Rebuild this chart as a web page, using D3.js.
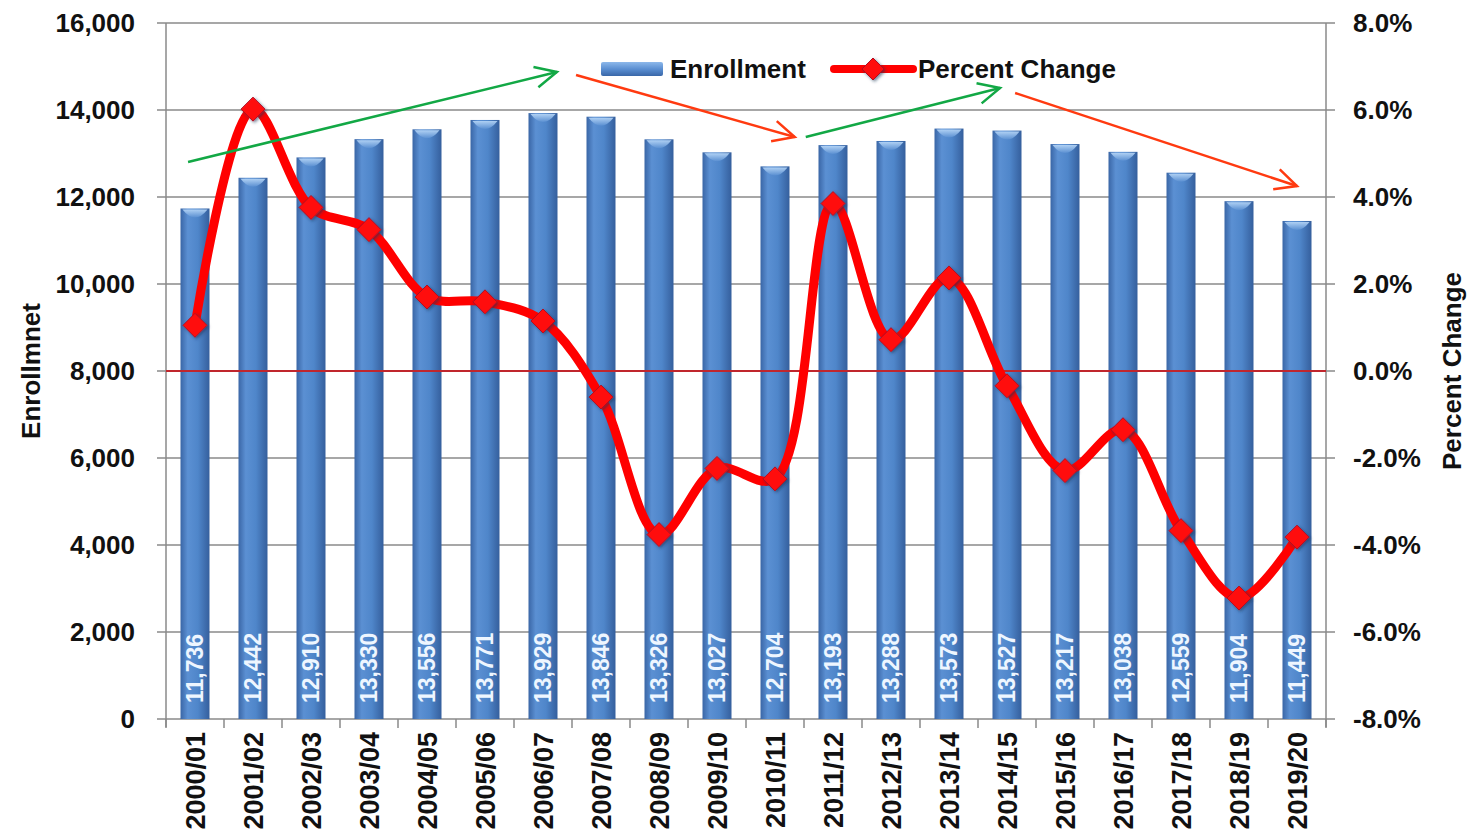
<!DOCTYPE html>
<html><head><meta charset="utf-8">
<script src="https://cdn.jsdelivr.net/npm/d3@7"></script>
<style>
body{margin:0;background:#fff;overflow:hidden}
text{font-family:"Liberation Sans",Arial,Helvetica,sans-serif}
</style>
</head><body>
<svg id="chart" width="1470" height="838"></svg>
<script>
// ---------- data ----------
const categories = ["2000/01","2001/02","2002/03","2003/04","2004/05","2005/06","2006/07","2007/08","2008/09","2009/10","2010/11","2011/12","2012/13","2013/14","2014/15","2015/16","2016/17","2017/18","2018/19","2019/20"];
const enrollment = [11736,12442,12910,13330,13556,13771,13929,13846,13326,13027,12704,13193,13288,13573,13527,13217,13038,12559,11904,11449];
const percentChange = [1.05,6.02,3.76,3.25,1.70,1.59,1.15,-0.60,-3.76,-2.24,-2.48,3.85,0.72,2.14,-0.34,-2.29,-1.35,-3.67,-5.22,-3.82];
const leftTicks = [0,2000,4000,6000,8000,10000,12000,14000,16000];
const rightTicks = [-8,-6,-4,-2,0,2,4,6,8];
// trend arrows: [category index position, enrollment value]
const arrowStart = [[-0.12,12805],[6.57,14805],[10.53,13379],[14.14,14391]];
const arrowEnd   = [[6.24,14874],[10.34,13379],[13.88,14506],[19.0,12253]];
const arrowTrend = ["up","down","up","down"];

// ---------- layout ----------
const svg = d3.select("#chart");
const L = 166, R = 1326, T = 23, B = 719;

const x = d3.scaleBand().domain(categories).range([L, R]).paddingInner(0.5).paddingOuter(0.25);
const step = x.step();
const xc = i => x(categories[0]) + x.bandwidth()/2 + i*step;
const yL = d3.scaleLinear().domain([0,16000]).range([B, T]);
const yR = d3.scaleLinear().domain([-8,8]).range([B, T]);

const defs = svg.append("defs");
const bg = defs.append("linearGradient").attr("id","barGrad").attr("x1","0").attr("x2","1").attr("y1","0").attr("y2","0");
bg.append("stop").attr("offset","0").attr("stop-color","#3a66a6");
bg.append("stop").attr("offset","0.25").attr("stop-color","#5b90d3");
bg.append("stop").attr("offset","0.6").attr("stop-color","#4f86ca");
bg.append("stop").attr("offset","1").attr("stop-color","#355f9d");
const cg = defs.append("linearGradient").attr("id","capGrad").attr("x1","0").attr("x2","0").attr("y1","0").attr("y2","1");
cg.append("stop").attr("offset","0").attr("stop-color","#b9d8f8");
cg.append("stop").attr("offset","1").attr("stop-color","#5b90d2");
const lg = defs.append("linearGradient").attr("id","legGrad").attr("x1","0").attr("x2","0").attr("y1","0").attr("y2","1");
lg.append("stop").attr("offset","0").attr("stop-color","#8db8ea");
lg.append("stop").attr("offset","0.5").attr("stop-color","#5b8fd2");
lg.append("stop").attr("offset","1").attr("stop-color","#3a67a8");
const sh = defs.append("filter").attr("id","shadow").attr("x","-50%").attr("y","-50%").attr("width","200%").attr("height","200%");
sh.append("feDropShadow").attr("dx",1.5).attr("dy",1.5).attr("stdDeviation",1.5).attr("flood-color","#223355").attr("flood-opacity",0.6);

const fmtPct = d => d3.format(".1f")(d).replace("\u2212","-") + "%";

// ---------- gridlines & axes ----------
const grid = svg.append("g");
grid.selectAll("line.g").data(leftTicks).join("line")
  .attr("x1", L-9).attr("x2", R+9)
  .attr("y1", d=>yL(d)).attr("y2", d=>yL(d))
  .attr("stroke","#8a8a8a").attr("stroke-width",1.5);
svg.append("line").attr("x1",L).attr("x2",L).attr("y1",T).attr("y2",B+8).attr("stroke","#8a8a8a").attr("stroke-width",1.5);
svg.append("line").attr("x1",R).attr("x2",R).attr("y1",T).attr("y2",B+8).attr("stroke","#8a8a8a").attr("stroke-width",1.5);
const bounds = d3.range(categories.length+1).map(i => L + i*step);
svg.selectAll("line.xt").data(bounds).join("line")
  .attr("x1",d=>d).attr("x2",d=>d).attr("y1",B).attr("y2",B+9)
  .attr("stroke","#8a8a8a").attr("stroke-width",1.5);

svg.append("g").selectAll("text").data(leftTicks).join("text")
  .attr("x", 135).attr("y", d=>yL(d)).attr("dy","0.36em")
  .attr("text-anchor","end").attr("font-size",26).attr("font-weight","bold").attr("fill","#111")
  .text(d=>d3.format(",")(d));
svg.append("g").selectAll("text").data(rightTicks).join("text")
  .attr("x", 1353).attr("y", d=>yR(d)).attr("dy","0.36em")
  .attr("text-anchor","start").attr("font-size",26).attr("font-weight","bold").attr("fill","#111")
  .text(fmtPct);

svg.append("text").attr("transform",`translate(40,${(T+B)/2}) rotate(-90)`)
  .attr("text-anchor","middle").attr("font-size",26).attr("font-weight","bold").attr("fill","#111").text("Enrollmnet");
svg.append("text").attr("transform",`translate(1461,${(T+B)/2}) rotate(-90)`)
  .attr("text-anchor","middle").attr("font-size",26).attr("font-weight","bold").attr("fill","#111").text("Percent Change");

svg.append("g").selectAll("text").data(categories).join("text")
  .attr("transform", d=>`translate(${x(d)+x.bandwidth()/2},${B+13}) rotate(-90)`)
  .attr("dy","0.36em").attr("text-anchor","end").attr("font-size",27).attr("font-weight","bold").attr("fill","#111")
  .text(d=>d);

// ---------- bars ----------
const bars = svg.append("g");
bars.selectAll("rect").data(enrollment).join("rect")
  .attr("x",(d,i)=>x(categories[i])).attr("width",x.bandwidth())
  .attr("y",d=>yL(d)).attr("height",d=>B-yL(d))
  .attr("fill","url(#barGrad)");
bars.selectAll("path.cap").data(enrollment).join("path")
  .attr("d",(d,i)=>{
    const x0 = x(categories[i])+2, w = x.bandwidth()-4, y0 = yL(d)+1;
    return `M${x0},${y0} L${x0+w},${y0} Q${x0+w/2},${y0+16} ${x0},${y0} Z`;
  })
  .attr("fill","url(#capGrad)").attr("opacity",0.9);
bars.selectAll("text").data(enrollment).join("text")
  .attr("transform",(d,i)=>`translate(${x(categories[i])+x.bandwidth()/2},${B-16}) rotate(-90)`)
  .attr("dy","0.36em").attr("text-anchor","start").attr("font-size",23).attr("font-weight","bold").attr("fill","#eef6ff")
  .text(d=>d3.format(",")(d));

svg.append("line").attr("x1",L).attr("x2",R).attr("y1",yR(0)).attr("y2",yR(0))
  .attr("stroke","#c0262d").attr("stroke-width",2);

// ---------- line ----------
const line = d3.line().x((d,i)=>xc(i)).y(d=>yR(d)).curve(d3.curveCatmullRom.alpha(0.5));
svg.append("path").datum(percentChange).attr("d",line)
  .attr("fill","none").attr("stroke","#ff0000").attr("stroke-width",9).attr("stroke-linejoin","round").attr("stroke-linecap","round");
const diamond = (cx,cy,r)=>`M${cx},${cy-r} L${cx+r},${cy} L${cx},${cy+r} L${cx-r},${cy} Z`;
svg.append("g").selectAll("path").data(percentChange).join("path")
  .attr("d",(d,i)=>diamond(xc(i),yR(d),12))
  .attr("fill","#ff1010").attr("stroke","#b01020").attr("stroke-width",1).attr("filter","url(#shadow)");

// ---------- trend arrows ----------
const arrowColor = {up:"#12a845", down:"#ff3a10"};
const ag = svg.append("g");
arrowStart.forEach((s,k)=>{
  const e = arrowEnd[k];
  const x1 = xc(s[0]), y1 = yL(s[1]), x2 = xc(e[0]), y2 = yL(e[1]);
  const col = arrowColor[arrowTrend[k]];
  ag.append("line").attr("x1",x1).attr("y1",y1).attr("x2",x2).attr("y2",y2)
    .attr("stroke",col).attr("stroke-width",2.5);
  const a = Math.atan2(y2-y1,x2-x1), len = 24, sp = 0.45;
  const p1 = [x2-len*Math.cos(a-sp), y2-len*Math.sin(a-sp)];
  const p2 = [x2-len*Math.cos(a+sp), y2-len*Math.sin(a+sp)];
  ag.append("path").attr("d",`M${p1[0]},${p1[1]} L${x2},${y2} L${p2[0]},${p2[1]}`)
    .attr("fill","none").attr("stroke",col).attr("stroke-width",2.5);
});

// ---------- legend ----------
const leg = svg.append("g");
leg.append("rect").attr("x",601).attr("y",62).attr("width",62).attr("height",14).attr("rx",2)
  .attr("fill","url(#legGrad)");
leg.append("text").attr("x",670).attr("y",69).attr("dy","0.36em").attr("font-size",26).attr("font-weight","bold").attr("fill","#111").text("Enrollment");
leg.append("line").attr("x1",834).attr("x2",913).attr("y1",69).attr("y2",69)
  .attr("stroke","#ff0000").attr("stroke-width",8).attr("stroke-linecap","round");
leg.append("path").attr("d",diamond(873,69,11)).attr("fill","#ff1010").attr("stroke","#b01020").attr("filter","url(#shadow)");
leg.append("text").attr("x",918).attr("y",69).attr("dy","0.36em").attr("font-size",26).attr("font-weight","bold").attr("fill","#111").text("Percent Change");
</script>
</body></html>
